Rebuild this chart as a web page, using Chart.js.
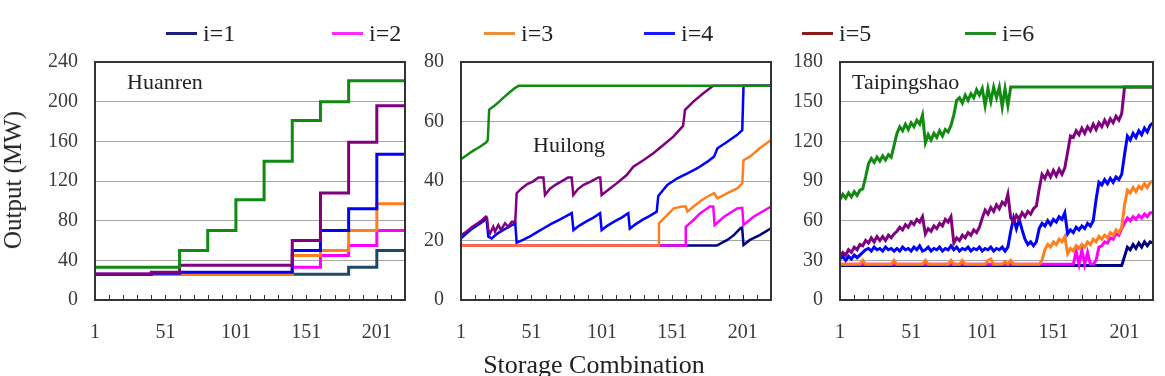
<!DOCTYPE html>
<html>
<head>
<meta charset="utf-8">
<script src="https://cdn.jsdelivr.net/npm/chart.js@4.4.1/dist/chart.umd.min.js"></script>
<style>
  html, body { margin: 0; padding: 0; background: #fff; }
  #wrap   { position: relative; width: 1165px; height: 376px; overflow: hidden;
            font-family: 'Liberation Serif', 'Times New Roman', serif; color: #222; }
  canvas  { position: absolute; top: 0; }
  .item   { position: absolute; top: 19px; height: 28px; display: flex; align-items: center;
            font-size: 24px; line-height: 28px; white-space: nowrap; }
  .swatch { display: inline-block; width: 31px; height: 3px; margin-right: 6px; }
  #ytitle { position: absolute; left: 13px; top: 180px; transform: translate(-50%, -50%) rotate(-90deg);
            font-size: 25px; white-space: nowrap; }
  #xtitle { position: absolute; left: 594px; top: 352px; transform: translateX(-50%);
            font-size: 26px; line-height: 26px; white-space: nowrap; }
</style>
</head>
<body>
<div id="wrap">
  <canvas id="cHuanren" width="410" height="376" style="left:0px"></canvas>
  <canvas id="cHuilong" width="366" height="376" style="left:410px"></canvas>
  <canvas id="cTaiping" width="382" height="376" style="left:776px"></canvas>
  <div id="legend"></div>
  <div id="ytitle">Output (MW)</div>
  <div id="xtitle">Storage Combination</div>
</div>
<script>
// ── datos ────────────────────────────────────────────────────────────────
const SERIES = ['i=1', 'i=2', 'i=3', 'i=4', 'i=5', 'i=6'];

const X_TICKS  = [1, 11, 21, 31, 41, 51, 61, 71, 81, 91, 101, 111, 121, 131, 141, 151, 161, 171, 181, 191, 201, 211, 221];
const X_LABELS = [1, 51, 101, 151, 201];

// Huanren: escalones [combinación, MW]
const HUANREN_I1 = [[1, 26], [181, 33], [201, 50], [221, 50]];
const HUANREN_I2 = [[1, 26], [141, 33], [161, 45], [181, 55], [201, 70], [221, 70]];
const HUANREN_I3 = [[1, 26], [141, 45], [161, 50], [181, 70], [201, 97], [221, 97]];
const HUANREN_I4 = [[1, 26], [41, 27], [61, 28], [141, 50], [161, 70], [181, 92], [201, 147], [221, 147]];
const HUANREN_I5 = [[1, 26], [41, 28], [61, 35], [141, 60], [161, 108], [181, 159], [201, 196], [221, 196]];
const HUANREN_I6 = [[1, 33], [61, 50], [81, 70], [101, 101], [121, 140], [141, 181], [161, 200], [181, 221], [221, 221]];

// Huilong: [combinación, MW]
const HUILONG_I1 = [[1, 18.3], [182.5, 18.3], [190, 20.2], [194.6, 21.8], [199.3, 24.1], [200.5, 24.4],
  [201.5, 18.5], [206, 20.2], [213, 21.8], [221, 24.1]];
const HUILONG_I2 = [[1, 18.3], [160, 18.3], [160.5, 24.6], [166, 26.9], [170.6, 29.1], [177.7, 31.4], [180, 31.4],
  [181, 25.2], [187.7, 28], [197, 30.8], [200.6, 31], [201.5, 25.2], [208.6, 28], [221, 31.4]];
const HUILONG_I3 = [[1, 18.3], [141, 18.3], [141.5, 25.8], [147.4, 28.6], [152, 30.8], [158, 31.4], [160.5, 31.4],
  [161.7, 29.7], [166, 31.4], [172, 33.6], [178, 35.3], [180.6, 35.9], [183, 34.2], [190, 35.9], [197, 37.5],
  [200.6, 39.2], [201.5, 47], [206, 48.2], [213, 51], [221, 53.8]];
const HUILONG_I4 = [[1, 20.7], [5, 22.4], [9, 24], [13, 25.2], [17, 26.5], [19, 27.5], [20.4, 21.3], [22.8, 20.7],
  [27, 22.4], [32, 23.8], [36, 24.8], [39.5, 25.8], [40.5, 19.3], [45, 20.2], [50, 21.4], [55, 22.8], [60, 24.2],
  [65, 25.6], [70, 26.8], [75, 28], [79.6, 29.2], [80.8, 23.5], [85, 25], [90, 26.4], [95, 27.7], [99.7, 29.2],
  [100.8, 23.5], [105, 25], [110, 26.4], [115, 27.7], [119.7, 29.2], [120.8, 24], [125, 25.5], [130, 27],
  [135, 28.3], [139.9, 29.7], [141, 35], [147.4, 38.7], [154.5, 40.9], [161.7, 42.6], [168.8, 44.3],
  [175.9, 46.5], [180.6, 48.2], [183, 51], [190, 53.2], [197, 55.5], [200.6, 57.1], [201.5, 72], [221, 72]];
const HUILONG_I5 = [[1, 21.8], [5, 23], [9, 24.6], [12, 25.5], [16, 26.9], [18.5, 28], [19.5, 27.5], [20.4, 23.5],
  [21.6, 22.4], [23.9, 24.6], [25.1, 23], [27.5, 25.2], [29.4, 23.5], [32.2, 25.8], [34.6, 24.6], [37, 26.3],
  [39.5, 26.3], [40.5, 35.9], [44, 37.5], [48, 39], [52, 39.8], [56, 41.2], [59.5, 41.2], [60.6, 35.3], [64, 37.3],
  [68, 38.7], [72, 39.8], [77, 41.2], [79.5, 41.2], [80.7, 35.3], [84, 37.3], [88, 38.7], [93, 39.8], [98.5, 41.2],
  [99.8, 41.2], [100.8, 35.3], [106.7, 37.5], [111.5, 39.2], [118.6, 42], [123.3, 44.8], [130.4, 47],
  [137.5, 49.3], [144.6, 52.1], [151.7, 54.9], [158.6, 58.5], [160, 63.9], [165.9, 66.7], [173, 69.5],
  [180, 72], [221, 72]];
const HUILONG_I6 = [[1, 47.3], [4, 48.3], [7, 49.3], [10, 50.3], [13, 51.1], [16, 52], [19, 53], [20, 53.8],
  [21, 64], [24, 65], [27, 66.2], [30, 67.5], [33, 68.8], [36, 70], [39, 71.2], [42, 72], [221, 72]];

// Taipingshao: una muestra cada 2 combinaciones
const TAIPING_X = [
  1, 3, 5, 7, 9, 11, 13, 15, 17, 19,
  21, 23, 25, 27, 29, 31, 33, 35, 37, 39,
  41, 43, 45, 47, 49, 51, 53, 55, 57, 59,
  61, 63, 65, 67, 69, 71, 73, 75, 77, 79,
  81, 83, 85, 87, 89, 91, 93, 95, 97, 99,
  101, 103, 105, 107, 109, 111, 113, 115, 117, 119,
  121, 123, 125, 127, 129, 131, 133, 135, 137, 139,
  141, 143, 145, 147, 149, 151, 153, 155, 157, 159,
  161, 163, 165, 167, 169, 171, 173, 175, 177, 179,
  181, 183, 185, 187, 189, 191, 193, 195, 197, 199,
  201, 203, 205, 207, 209, 211, 213, 215, 217, 219,
  221];
const TAIPING_I1 = [
  26, 26, 26, 26, 26, 26, 26, 26, 26, 26,
  26, 26, 26, 26, 26, 26, 26, 26, 26, 26,
  26, 26, 26, 26, 26, 26, 26, 26, 26, 26,
  26, 26, 26, 26, 26, 26, 26, 26, 26, 26,
  26, 26, 26, 26, 26, 26, 26, 26, 26, 26,
  26, 26, 26, 26, 26, 26, 26, 26, 26, 26,
  26, 26, 26, 26, 26, 26, 26, 26, 26, 26,
  26, 26, 26, 26, 26, 26, 26, 26, 26, 26,
  26, 26, 26, 26, 26, 26, 26, 26, 26, 26,
  26, 26, 26, 26, 26, 26, 26, 26, 26, 26,
  33, 40, 38, 42, 39, 43, 40, 44, 41, 44,
  43];
const TAIPING_I2 = [
  27, 27, 27, 27, 27, 27, 27, 27, 27, 27,
  27, 27, 27, 27, 27, 27, 27, 27, 27, 27,
  27, 27, 27, 27, 27, 27, 27, 27, 27, 27,
  27, 27, 27, 27, 27, 27, 27, 27, 27, 27,
  27, 27, 27, 27, 27, 27, 27, 27, 27, 27,
  27, 27, 27, 27, 27, 27, 27, 27, 27, 27,
  27, 27, 27, 27, 27, 27, 27, 27, 27, 27,
  27, 27, 27, 27, 27, 27, 27, 27, 27, 27,
  27, 27, 27, 37, 27, 38, 27, 36, 27, 27,
  30, 40, 41, 44, 43, 47, 46, 50, 49, 54,
  58, 62, 60, 63, 61, 64, 62, 65, 63, 66,
  66];
const TAIPING_I3 = [
  27, 27, 27, 27, 27, 27, 27, 27, 30, 27,
  27, 27, 27, 27, 27, 27, 27, 27, 27, 30,
  27, 27, 27, 27, 27, 27, 27, 27, 27, 27,
  30, 27, 27, 27, 27, 27, 27, 27, 27, 30,
  27, 27, 27, 30, 27, 27, 27, 27, 27, 27,
  27, 27, 30, 31, 27, 27, 27, 27, 29, 27,
  30, 27, 27, 27, 27, 27, 27, 27, 27, 27,
  27, 30, 38, 42, 40, 44, 42, 46, 44, 48,
  35, 39, 37, 41, 39, 42, 40, 44, 42, 46,
  44, 48, 46, 49, 47, 51, 49, 53, 51, 55,
  72, 83, 81, 85, 82, 86, 84, 88, 85, 89,
  90];
const TAIPING_I4 = [
  31, 33, 30, 33, 31, 34, 32, 34, 36, 38,
  39, 37, 40, 38, 39, 37, 40, 38, 39, 37,
  39, 37, 40, 38, 39, 37, 40, 38, 41, 37,
  38, 40, 37, 39, 38, 40, 37, 39, 38, 41,
  38, 40, 37, 39, 38, 40, 37, 39, 38, 40,
  37, 39, 38, 40, 37, 39, 38, 40, 37, 40,
  52, 62, 54, 61, 53, 46, 42, 44, 41, 44,
  54, 58, 56, 60, 57, 61, 59, 63, 61, 66,
  50, 53, 51, 55, 53, 56, 54, 58, 56, 60,
  76, 89, 87, 91, 88, 92, 89, 93, 91, 95,
  110, 124, 121, 126, 123, 128, 125, 130, 127, 132,
  134];
const TAIPING_I5 = [
  33, 36, 34, 38, 36, 40, 38, 42, 41, 45,
  43, 47, 44, 48, 45, 48, 45, 49, 47, 50,
  52, 55, 53, 57, 55, 59, 57, 61, 59, 63,
  50, 54, 52, 56, 54, 58, 56, 61, 59, 63,
  43, 47, 45, 49, 47, 51, 49, 53, 51, 55,
  62, 68, 65, 70, 67, 72, 69, 74, 72, 80,
  62, 59, 64, 61, 66, 63, 67, 65, 69, 71,
  84, 95, 92, 97, 93, 98, 94, 99, 95, 100,
  112, 124, 123, 128, 125, 130, 126, 131, 128, 133,
  129, 134, 131, 136, 132, 137, 134, 139, 136, 141,
  161, 161, 161, 161, 161, 161, 161, 161, 161, 161,
  161];
const TAIPING_I6 = [
  76, 80, 77, 81, 78, 82, 79, 83, 84, 93,
  103, 107, 104, 108, 105, 109, 106, 110, 108, 117,
  126, 131, 128, 133, 129, 134, 131, 136, 133, 140,
  119, 125, 121, 126, 123, 128, 124, 129, 127, 132,
  140, 151, 153, 149, 155, 151, 156, 153, 159, 155,
  160, 147, 160, 150, 161, 153, 161, 146, 160, 147,
  161, 161, 161, 161, 161, 161, 161, 161, 161, 161,
  161, 161, 161, 161, 161, 161, 161, 161, 161, 161,
  161, 161, 161, 161, 161, 161, 161, 161, 161, 161,
  161, 161, 161, 161, 161, 161, 161, 161, 161, 161,
  161, 161, 161, 161, 161, 161, 161, 161, 161, 161,
  161];

// ── estilo ───────────────────────────────────────────────────────────────
const LINE_COLORS   = ['#000080', '#FF00FF', '#FF7F1E', '#0000FF', '#800080', '#108A10'];
const LEGEND_COLORS = ['#1F1F80', '#FF2CFF', '#E8913A', '#1A1AFF', '#8B1A1A', '#228B22'];
const FONT       = 'Liberation Serif';
const TEXT_COLOR = '#3a3a3a';
const GRID_COLOR = '#A6A6A6';

Chart.defaults.font.family = FONT;

const panelPlugin = {
  id: 'panel',
  afterDraw(chart, args, opts) {
    const { ctx, chartArea: a, scales: { x } } = chart;
    ctx.save();
    ctx.strokeStyle = '#333';
    ctx.lineWidth = 1;
    X_TICKS.forEach(v => {
      const px = Math.round(x.getPixelForValue(v)) + 0.5;
      ctx.beginPath();
      ctx.moveTo(px, a.bottom);
      ctx.lineTo(px, a.bottom - 5);
      ctx.stroke();
    });
    ctx.lineWidth = 2;
    ctx.strokeRect(a.left, a.top, a.right - a.left, a.bottom - a.top);
    ctx.font = `22px "${FONT}"`;
    ctx.fillStyle = '#222';
    ctx.textBaseline = 'middle';
    ctx.fillText(opts.text, a.left + opts.dx, opts.y);
    ctx.restore();
  }
};

function dataset(k, points, width, stepped, color) {
  return {
    label: SERIES[k],
    data: points.map(([x, y]) => ({ x, y })),
    borderColor: color || LINE_COLORS[k],
    backgroundColor: color || LINE_COLORS[k],
    borderWidth: width, pointRadius: 0, tension: 0,
    stepped: stepped, order: 5 - k
  };
}

function buildPanel(id, datasets, yMax, yStep, axisWidth, label) {
  new Chart(document.getElementById(id), {
    type: 'line',
    data: { datasets },
    options: {
      responsive: false, animation: false, devicePixelRatio: 1,
      layout: { padding: { top: 62, right: 5, bottom: 16, left: 0 } },
      plugins: { legend: { display: false }, tooltip: { enabled: false }, panel: label },
      scales: {
        x: {
          type: 'linear', min: 1, max: 221,
          afterBuildTicks: s => { s.ticks = X_TICKS.map(v => ({ value: v })); },
          afterFit: s => { s.height = 60; s.paddingLeft = 0; s.paddingRight = 0; },
          ticks: { autoSkip: false, maxRotation: 0, padding: 21, color: TEXT_COLOR, font: { size: 20 },
                   callback: v => X_LABELS.includes(v) ? String(v) : '' },
          grid: { display: false, drawTicks: false },
          border: { display: false }
        },
        y: {
          min: 0, max: yMax,
          afterFit: s => { s.width = axisWidth; },
          ticks: { stepSize: yStep, padding: 17, color: TEXT_COLOR, font: { size: 20 } },
          grid: { color: GRID_COLOR, lineWidth: 1, drawTicks: false },
          border: { display: false }
        }
      }
    },
    plugins: [panelPlugin]
  });
}

const huanren = [HUANREN_I1, HUANREN_I2, HUANREN_I3, HUANREN_I4, HUANREN_I5, HUANREN_I6];
const huilong = [HUILONG_I1, HUILONG_I2, HUILONG_I3, HUILONG_I4, HUILONG_I5, HUILONG_I6];
const taiping = [TAIPING_I1, TAIPING_I2, TAIPING_I3, TAIPING_I4, TAIPING_I5, TAIPING_I6]
  .map(ys => TAIPING_X.map((x, j) => [x, ys[j]]));

buildPanel('cHuanren',
  huanren.map((p, k) => dataset(k, p, 3, true, k === 0 ? '#1E4A6A' : null)),
  240, 40, 95, { text: 'Huanren', dx: 32, y: 83 });
buildPanel('cHuilong',
  huilong.map((p, k) => dataset(k, p, 2.5, false)),
  80, 20, 51, { text: 'Huilong', dx: 72, y: 146 });
buildPanel('cTaiping',
  taiping.map((p, k) => dataset(k, p, 3, false)),
  180, 30, 64, { text: 'Taipingshao', dx: 12, y: 83 });

// leyenda común
const LEGEND_LEFT = [166, 332, 484, 644, 802, 965];
const legend = document.getElementById('legend');
SERIES.forEach((name, k) => {
  const item = document.createElement('div');
  item.className = 'item';
  item.style.left = LEGEND_LEFT[k] + 'px';
  item.innerHTML = `<span class="swatch" style="background:${LEGEND_COLORS[k]}"></span>${name}`;
  legend.appendChild(item);
});
</script>
</body>
</html>
